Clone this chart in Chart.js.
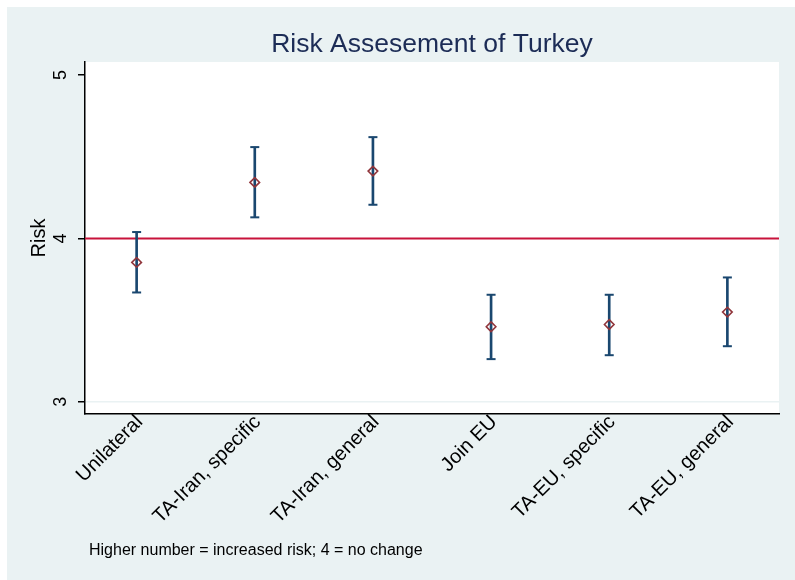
<!DOCTYPE html>
<html>
<head>
<meta charset="utf-8">
<script src="https://cdn.jsdelivr.net/npm/chart.js@4.4.0/dist/chart.umd.min.js"></script>
<style>
  html, body { margin: 0; padding: 0; background: #fff; }
  #wrap { width: 795px; height: 580px; }
</style>
</head>
<body>
<div id="wrap"><canvas id="risk-chart" width="795" height="580"></canvas></div>
<script>
const categories = ['Unilateral', 'TA-Iran, specific', 'TA-Iran, general', 'Join EU', 'TA-EU, specific', 'TA-EU, general'];
const means = [3.853, 4.343, 4.412, 3.459, 3.473, 3.549];
const upper = [4.039, 4.559, 4.620, 3.655, 3.655, 3.761];
const lower = [3.669, 4.129, 4.206, 3.261, 3.285, 3.340];
const yTicks = [3, 4, 5];
const refValue = 4;
const titleText = 'Risk Assesement of Turkey';
const yTitle = 'Risk';
const noteText = 'Higher number = increased risk; 4 = no change';

const navy = '#1a476f';
const maroon = '#90353b';
const FONT = '"Liberation Sans", Arial, sans-serif';

const xs = categories.map((c, i) => i + 1);

// backdrop, titles and tick labels
const decorPlugin = {
    id: 'decor',
    beforeDraw(chart) {
        const ctx = chart.ctx;
        const area = chart.chartArea;
        ctx.save();
        ctx.fillStyle = '#ffffff';
        ctx.fillRect(0, 0, chart.width, chart.height);
        ctx.fillStyle = '#eaf2f3';
        ctx.fillRect(7, 7, chart.width - 7, chart.height - 7);
        ctx.fillStyle = '#ffffff';
        ctx.fillRect(area.left, area.top, area.right - area.left, area.bottom - area.top);
        ctx.restore();
    },
    afterDraw(chart) {
        const ctx = chart.ctx;
        const area = chart.chartArea;
        const x = chart.scales.x;
        const y = chart.scales.y;

        ctx.save();
        ctx.fillStyle = '#1c2c56';
        ctx.font = '26.5px ' + FONT;
        ctx.textAlign = 'center';
        ctx.textBaseline = 'alphabetic';
        ctx.fillText(titleText, (area.left + area.right) / 2, 52);
        ctx.restore();

        ctx.save();
        ctx.fillStyle = '#000';
        ctx.font = '18px ' + FONT;
        ctx.textAlign = 'center';
        ctx.textBaseline = 'alphabetic';
        yTicks.forEach(v => {
            ctx.save();
            ctx.translate(66, y.getPixelForValue(v));
            ctx.rotate(-Math.PI / 2);
            ctx.fillText(String(v), 0, 0);
            ctx.restore();
        });
        ctx.font = '20px ' + FONT;
        ctx.translate(45, (area.top + area.bottom) / 2);
        ctx.rotate(-Math.PI / 2);
        ctx.fillText(yTitle, 0, 0);
        ctx.restore();

        ctx.save();
        ctx.fillStyle = '#000';
        ctx.font = '20px ' + FONT;
        ctx.textAlign = 'right';
        ctx.textBaseline = 'middle';
        x.ticks.forEach(t => {
            ctx.save();
            ctx.translate(x.getPixelForValue(t.value) + 3, 419);
            ctx.rotate(-Math.PI / 4);
            ctx.fillText(categories[t.value - 1], 0, 0);
            ctx.restore();
        });
        ctx.restore();

        ctx.save();
        ctx.fillStyle = '#000';
        ctx.font = '16px ' + FONT;
        ctx.textAlign = 'left';
        ctx.textBaseline = 'alphabetic';
        ctx.fillText(noteText, 89, 555);
        ctx.restore();
    }
};

const ctx = document.getElementById('risk-chart').getContext('2d');
new Chart(ctx, {
    data: {
        datasets: [
            {
                type: 'line',
                data: [{ x: 0.563, y: refValue }, { x: 6.437, y: refValue }],
                borderColor: '#c8133b',
                borderWidth: 2,
                pointRadius: 0,
                order: 4
            },
            {
                type: 'bar',
                data: xs.map((x, i) => ({ x: x, y: [lower[i], upper[i]] })),
                backgroundColor: navy,
                barThickness: 2,
                order: 3
            },
            {
                type: 'scatter',
                data: xs.map((x, i) => ({ x: x, y: upper[i] })).concat(xs.map((x, i) => ({ x: x, y: lower[i] }))),
                pointStyle: 'line',
                pointRadius: 4.5,
                borderColor: navy,
                borderWidth: 2,
                order: 2
            },
            {
                type: 'scatter',
                data: xs.map((x, i) => ({ x: x, y: means[i] })),
                pointStyle: 'rectRot',
                pointRadius: 4.8,
                borderColor: maroon,
                backgroundColor: 'rgba(255,255,255,0)',
                borderWidth: 1.6,
                order: 1
            }
        ]
    },
    options: {
        responsive: false,
        animation: false,
        layout: { padding: { top: 62, right: 16, left: 0, bottom: 0 } },
        plugins: {
            legend: { display: false },
            tooltip: { enabled: false }
        },
        scales: {
            x: {
                type: 'linear',
                offset: false,
                min: 0.563,
                max: 6.437,
                afterBuildTicks: scale => { scale.ticks = xs.map(v => ({ value: v })); },
                afterFit: scale => { scale.height = 166; },
                ticks: { display: false },
                grid: { display: true, drawOnChartArea: false, drawTicks: false },
                border: { color: '#000', width: 1.5 }
            },
            y: {
                type: 'linear',
                min: 2.925,
                max: 5.08,
                afterBuildTicks: scale => { scale.ticks = yTicks.map(v => ({ value: v })); },
                afterFit: scale => { scale.width = 85; },
                ticks: { display: false },
                grid: {
                    color: c => (c.tick && c.tick.value === 3 ? '#eaf2f3' : 'rgba(0,0,0,0)'),
                    tickColor: '#000',
                    tickLength: 7,
                    lineWidth: 1.5
                },
                border: { color: '#000', width: 1.5 }
            }
        }
    },
    plugins: [decorPlugin]
});
</script>
</body>
</html>
